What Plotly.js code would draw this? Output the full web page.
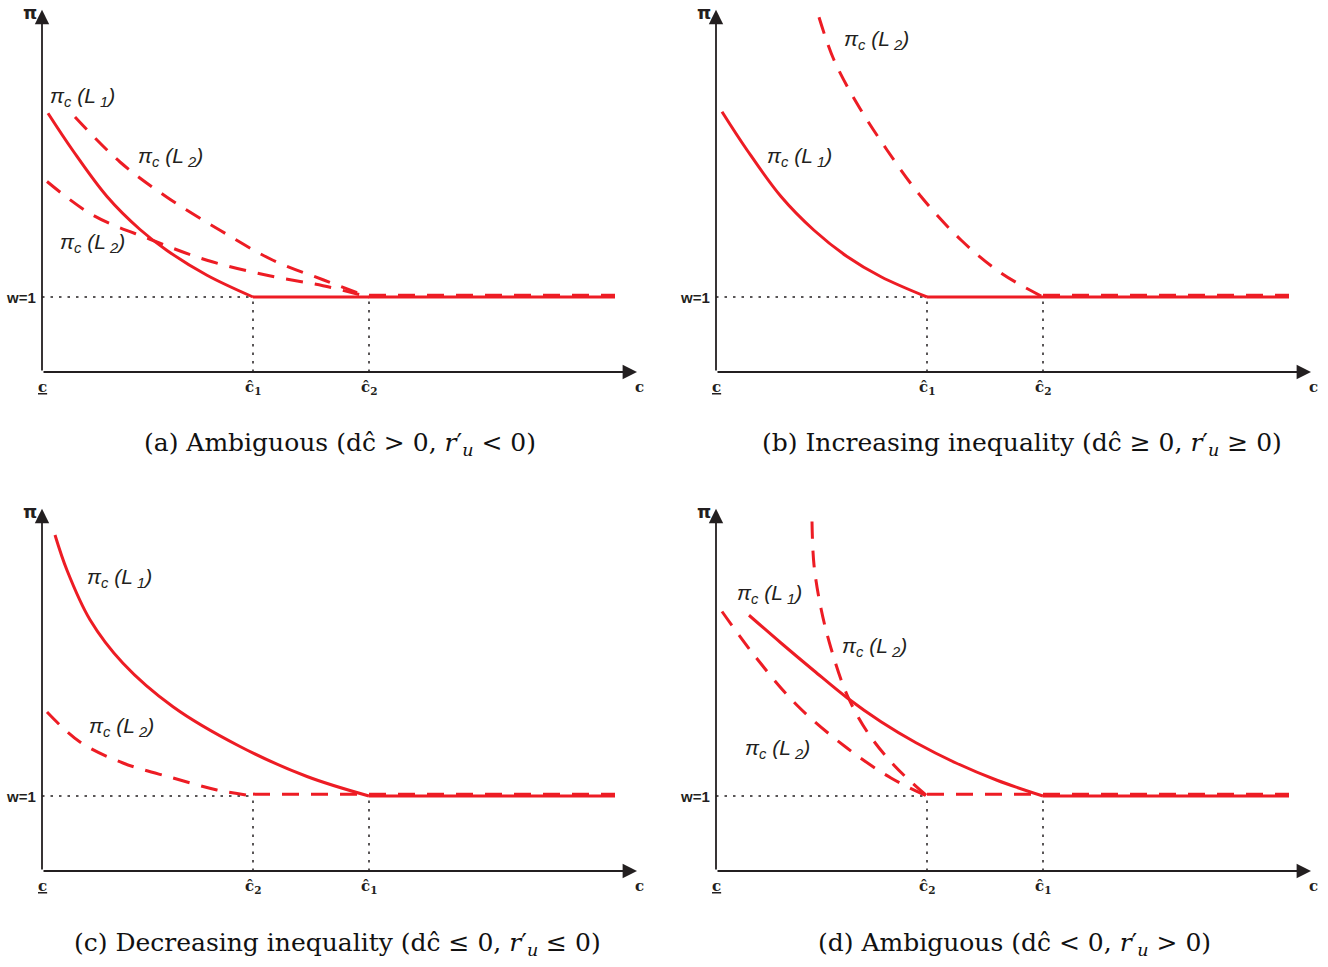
<!DOCTYPE html>
<html><head><meta charset="utf-8">
<script src="https://cdn.plot.ly/plotly-3.0.1.min.js"></script>
<style>html,body{margin:0;padding:0;background:#fff}#chart{width:1328px;height:967px}</style>
</head><body><div id="chart"></div>
<script>
// ---------- data ----------
// panel (a)
const a_L1_x  = [0.06, 0.31, 0.65, 0.98, 1.25, 1.65, 2.11];
const a_L1_y  = [3.45, 2.95, 2.34, 1.90, 1.62, 1.29, 1.00];
const a_L2u_x = [0.33, 0.78, 1.25, 1.78, 2.31, 2.81, 3.27];
const a_L2u_y = [3.40, 2.80, 2.33, 1.89, 1.49, 1.23, 1.00];
const a_L2l_x = [0.05, 0.51, 1.08, 1.65, 2.25, 2.81, 3.27];
const a_L2l_y = [2.54, 2.09, 1.77, 1.49, 1.29, 1.15, 1.00];
const a_chat = [2.11, 3.27];            // c-hat1, c-hat2
// panel (b)
const b_L1_x  = [0.06, 0.31, 0.65, 0.98, 1.31, 1.65, 2.11];
const b_L1_y  = [3.47, 2.96, 2.34, 1.89, 1.54, 1.27, 1.00];
const b_L2_x  = [1.03, 1.18, 1.41, 1.71, 2.05, 2.45, 2.85, 3.27];
const b_L2_y  = [4.73, 4.16, 3.58, 2.96, 2.34, 1.76, 1.32, 1.00];
const b_chat = [2.11, 3.27];            // c-hat1, c-hat2
// panel (c)
const c_L1_x  = [0.13, 0.25, 0.48, 0.81, 1.31, 1.98, 2.65, 3.27];
const c_L1_y  = [4.48, 4.01, 3.35, 2.77, 2.19, 1.66, 1.26, 1.00];
const c_L2_x  = [0.05, 0.38, 0.81, 1.31, 1.75, 2.11];
const c_L2_y  = [2.12, 1.72, 1.44, 1.24, 1.08, 1.00];
const c_chat = [3.27, 2.11];            // c-hat1, c-hat2
// panel (d)
const d_L1_x  = [0.33, 0.65, 0.98, 1.31, 1.65, 2.00, 2.40, 2.81, 3.27];
const d_L1_y  = [3.41, 3.04, 2.67, 2.31, 1.99, 1.71, 1.44, 1.21, 1.00];
const d_L2s_x = [0.96, 0.98, 1.05, 1.15, 1.31, 1.51, 1.78, 2.11];
const d_L2s_y = [4.66, 4.08, 3.50, 2.97, 2.35, 1.86, 1.41, 1.00];
const d_L2l_x = [0.06, 0.38, 0.81, 1.31, 1.75, 2.11];
const d_L2l_y = [3.46, 2.88, 2.21, 1.64, 1.24, 1.00];
const d_chat = [3.27, 2.11];            // c-hat1, c-hat2

const wLevel = 1;          // w = 1
const cEnd = 5.73;         // end of the drawn curves
const xAxisEnd = 5.95;     // arrow tip of c axis
const yAxisEnd = 4.83;     // arrow tip of pi axis

const captions = [
  '(a) Ambiguous (d\u0109 &gt; 0, <i>r</i>\u2032<sub><i>u</i></sub> &lt; 0)',
  '(b) Increasing inequality (d\u0109 \u2265 0, <i>r</i>\u2032<sub><i>u</i></sub> \u2265 0)',
  '(c) Decreasing inequality (d\u0109 \u2264 0, <i>r</i>\u2032<sub><i>u</i></sub> \u2264 0)',
  '(d) Ambiguous (d\u0109 &lt; 0, <i>r</i>\u2032<sub><i>u</i></sub> &gt; 0)'
];
const lblL1 = '<i>\u03c0<sub>c</sub> (L<sub> 1</sub>)</i>';
const lblL2 = '<i>\u03c0<sub>c</sub> (L<sub> 2</sub>)</i>';

// ---------- styling ----------
const RED = '#ed1c24', DARK = '#231f20';
const W = 1328, H = 967;
const DASH = '17px,12px', DOT = '2.5px,6px';

const traces = [];
const annotations = [];
const layout = {
  width: W, height: H, margin: {l:0, r:0, t:0, b:0},
  paper_bgcolor: '#fff', plot_bgcolor: 'rgba(0,0,0,0)', showlegend: false
};

// panel geometry: origin pixel, 100 px per x unit, 75 px per y unit
const panels = [
  {sfx:'',  ox:42,  oy:372},
  {sfx:'2', ox:716, oy:372},
  {sfx:'3', ox:42,  oy:871},
  {sfx:'4', ox:716, oy:871}
];
panels.forEach(p => {
  const xa = 'xaxis' + p.sfx, ya = 'yaxis' + p.sfx;
  layout[xa] = {domain:[(p.ox-42)/W, (p.ox+610)/W], range:[-0.42, 6.1], visible:false,
                anchor:'y'+p.sfx, fixedrange:true};
  layout[ya] = {domain:[(H-p.oy-24)/H, (H-p.oy+372)/H], range:[-0.32, 4.96], visible:false,
                anchor:'x'+p.sfx, fixedrange:true};
});

function line(xs, ys, k, dash, color, width, shape) {
  traces.push({x: xs, y: ys, xaxis:'x'+panels[k].sfx, yaxis:'y'+panels[k].sfx,
    type:'scatter', mode:'lines', hoverinfo:'skip', cliponaxis:false,
    line:{color:color, width:width, dash:dash, shape:shape || 'spline', smoothing:1}});
}
function ann(k, o) {
  annotations.push(Object.assign({xref:'x'+panels[k].sfx, yref:'y'+panels[k].sfx, showarrow:false}, o));
}

const chats = [a_chat, b_chat, c_chat, d_chat];

chats.forEach((ch, k) => {
  const lo = Math.min(ch[0], ch[1]);
  const ax = 'x'+panels[k].sfx, ay = 'y'+panels[k].sfx;
  // dotted guides
  line([0, lo], [wLevel, wLevel], k, DOT, DARK, 1.5, 'linear');
  line([ch[0], ch[0]], [0, wLevel], k, DOT, DARK, 1.5, 'linear');
  line([ch[1], ch[1]], [0, wLevel], k, DOT, DARK, 1.5, 'linear');
  // axes with arrows
  ann(k, {x:0, y:yAxisEnd, ax:0, ay:0, axref:ax, ayref:ay,
          showarrow:true, arrowhead:2, arrowsize:1.6, arrowwidth:1.8, arrowcolor:DARK, text:'', standoff:0});
  ann(k, {x:xAxisEnd, y:0, ax:0, ay:0, axref:ax, ayref:ay,
          showarrow:true, arrowhead:2, arrowsize:1.6, arrowwidth:1.8, arrowcolor:DARK, text:'', standoff:0});
  // axis texts
  const tf = {family:'DejaVu Serif', size:15, color:DARK, weight:'bold'};
  ann(k, {x:0, y:-0.2, text:'<u>c</u>', font:tf, xanchor:'center', yanchor:'middle'});
  ann(k, {x:ch[0], y:-0.21, text:'\u0109<sub>1</sub>', font:tf, xanchor:'center', yanchor:'middle'});
  ann(k, {x:ch[1], y:-0.21, text:'\u0109<sub>2</sub>', font:tf, xanchor:'center', yanchor:'middle'});
  ann(k, {x:xAxisEnd + 0.02, y:-0.2, text:'c', font:tf, xanchor:'center', yanchor:'middle'});
  ann(k, {x:-0.04, y:wLevel, text:'w=1', font:{family:'Liberation Sans', size:15, color:DARK, weight:'bold'},
          xanchor:'right', yanchor:'middle'});
  ann(k, {x:-0.12, y:4.8, text:'\u03c0', font:{family:'DejaVu Sans', size:18, color:DARK, weight:'bold'},
          xanchor:'center', yanchor:'middle'});
});

// ---------- curves ----------
const wDash = wLevel + 0.025;   // dashed flat part drawn just on top of the solid one
// (a)
line(a_L2u_x, a_L2u_y, 0, DASH, RED, 3);
line(a_L2l_x, a_L2l_y, 0, DASH, RED, 3);
line(a_L1_x, a_L1_y, 0, 'solid', RED, 3);
line([a_chat[0], cEnd], [wLevel, wLevel], 0, 'solid', RED, 3, 'linear');
line([a_chat[1], cEnd], [wDash, wDash], 0, DASH, RED, 3, 'linear');
// (b)
line(b_L2_x, b_L2_y, 1, DASH, RED, 3);
line(b_L1_x, b_L1_y, 1, 'solid', RED, 3);
line([b_chat[0], cEnd], [wLevel, wLevel], 1, 'solid', RED, 3, 'linear');
line([b_chat[1], cEnd], [wDash, wDash], 1, DASH, RED, 3, 'linear');
// (c)
line(c_L2_x, c_L2_y, 2, DASH, RED, 3);
line(c_L1_x, c_L1_y, 2, 'solid', RED, 3);
line([c_chat[0], cEnd], [wLevel, wLevel], 2, 'solid', RED, 3, 'linear');
line([c_chat[1], cEnd], [wDash, wDash], 2, DASH, RED, 3, 'linear');
// (d)
line(d_L2s_x, d_L2s_y, 3, DASH, RED, 3);
line(d_L2l_x, d_L2l_y, 3, DASH, RED, 3);
line(d_L1_x, d_L1_y, 3, 'solid', RED, 3);
line([d_chat[0], cEnd], [wLevel, wLevel], 3, 'solid', RED, 3, 'linear');
line([d_chat[1], cEnd], [wDash, wDash], 3, DASH, RED, 3, 'linear');

// ---------- curve labels ----------
const lf = {family:'Liberation Sans', size:21, color:DARK};
function lab(k, x, y, t) { ann(k, {x:x, y:y, text:t, font:lf, xanchor:'left', yanchor:'middle'}); }
lab(0, 0.06, 3.67, lblL1); lab(0, 0.94, 2.87, lblL2); lab(0, 0.16, 1.72, lblL2);
lab(1, 1.26, 4.43, lblL2); lab(1, 0.49, 2.87, lblL1);
lab(2, 0.43, 3.91, lblL1); lab(2, 0.45, 1.92, lblL2);
lab(3, 0.19, 3.69, lblL1); lab(3, 1.24, 2.99, lblL2); lab(3, 0.27, 1.63, lblL2);

// ---------- captions ----------
const capPos = [[340, 444], [1022, 444], [337, 944], [1015, 944]];
captions.forEach((c, i) => {
  annotations.push({xref:'paper', yref:'paper', x:capPos[i][0]/W, y:(H-capPos[i][1])/H,
    text:c, showarrow:false, xanchor:'center', yanchor:'middle',
    font:{family:'DejaVu Serif', size:25, color:'#111'}});
});

layout.annotations = annotations;
Plotly.newPlot('chart', traces, layout, {staticPlot:true, displayModeBar:false});
</script></body></html>
